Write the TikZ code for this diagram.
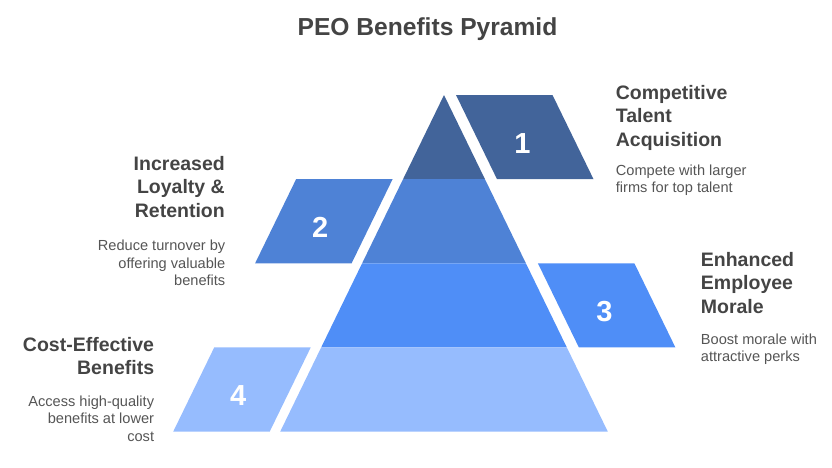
\documentclass[tikz,border=0pt]{standalone}
\usepackage{fontspec}
\setmainfont{Liberation Sans}
\definecolor{lvlA}{HTML}{42649A}
\definecolor{lvlB}{HTML}{4E82D6}
\definecolor{lvlC}{HTML}{4F8EF7}
\definecolor{lvlD}{HTML}{96BCFE}
\definecolor{headgray}{HTML}{444444}
\definecolor{descgray}{HTML}{555555}
\tikzset{
	heading/.style={font=\fontsize{19.5}{23.5}\selectfont\bfseries, text=headgray, inner sep=0pt},
	desc/.style={font=\fontsize{14.6}{17.4}\selectfont, text=descgray, inner sep=0pt},
	num/.style={font=\fontsize{29}{29}\selectfont\bfseries, text=white, inner sep=0pt}
}
\begin{document}
\begin{tikzpicture}[x=1pt, y=-1pt]
			\useasboundingbox (0,0) rectangle (832,467);
			%title
			\node[font=\fontsize{24.6}{24.6}\selectfont\bfseries, text=headgray] (title) at (427.5,29){PEO Benefits Pyramid};
			
			%pyramid bands
			\foreach \k/\col in {0/lvlA, 1/lvlB, 2/lvlC, 3/lvlD}{
				\pgfmathsetmacro{\ytop}{95+84.15*\k}
				\pgfmathsetmacro{\ybot}{95+84.15*(\k+1)}
				\pgfmathsetmacro{\wtop}{0.4866*84.15*\k}
				\pgfmathsetmacro{\wbot}{0.4866*84.15*(\k+1)}
				\fill[\col] (444-\wtop,\ytop) -- (444+\wtop,\ytop) -- (444+\wbot,\ybot) -- (444-\wbot,\ybot) -- cycle;
			}
			
			%number boxes, right side
			\foreach \k/\col/\n in {0/lvlA/1, 2/lvlC/3}{
				\pgfmathsetmacro{\ytop}{95+84.15*\k}
				\pgfmathsetmacro{\ybot}{95+84.15*(\k+1)}
				\pgfmathsetmacro{\xl}{444+0.4866*84.15*\k+12}
				\fill[\col] (\xl,\ytop) -- (\xl+96.5,\ytop) -- (\xl+137.5,\ybot) -- (\xl+41,\ybot) -- cycle;
				\node[num] (n\n) at (\xl+66.5,\ytop+48.5){\n};
			}
			%number boxes, left side
			\foreach \k/\col/\n in {1/lvlB/2, 3/lvlD/4}{
				\pgfmathsetmacro{\ytop}{95+84.15*\k}
				\pgfmathsetmacro{\ybot}{95+84.15*(\k+1)}
				\pgfmathsetmacro{\xr}{444-0.4866*84.15*(\k+1)-10.5}
				\fill[\col] (\xr,\ybot) -- (\xr-96.5,\ybot) -- (\xr-55.5,\ytop) -- (\xr+41,\ytop) -- cycle;
				\node[num] (n\n) at (\xr-31.5,\ytop+48.5){\n};
			}
			
			%labels (base = last line)
			\node[heading, anchor=base west, align=left] (head1) at (615.7,146){Competitive\\Talent\\Acquisition};
			\node[desc, anchor=base west, align=left] (desc1) at (615.7,192.7){Compete with larger\\firms for top talent};
			\node[heading, anchor=base east, align=right] (head2) at (225,217.3){Increased\\Loyalty \&\\Retention};
			\node[desc, anchor=base east, align=right] (desc2) at (225.5,285.7){Reduce turnover by\\offering valuable\\benefits};
			\node[heading, anchor=base west, align=left] (head3) at (700.7,313.3){Enhanced\\Employee\\Morale};
			\node[desc, anchor=base west, align=left] (desc3) at (700.7,361.7){Boost morale with\\attractive perks};
			\node[heading, anchor=base east, align=right] (head4) at (154.3,374.5){Cost-Effective\\Benefits};
			\node[desc, anchor=base east, align=right] (desc4) at (154.3,441){Access high-quality\\benefits at lower\\cost};
		\end{tikzpicture}
\end{document}
